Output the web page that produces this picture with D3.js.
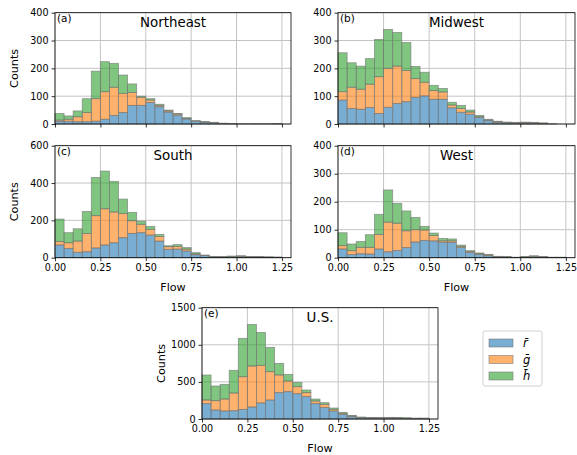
<!DOCTYPE html>
<html>
<head>
<meta charset="utf-8">
<script src="https://cdn.jsdelivr.net/npm/d3@7"></script>
<style>
  body { margin: 0; background: #fff; }
  svg { font-family: "DejaVu Sans", sans-serif; }
</style>
</head>
<body>
<div id="wrapper"></div>
<script>
// bin left edges, bin width 0.05
const binEdges = [0, 0.05, 0.10, 0.15, 0.20, 0.25, 0.30, 0.35, 0.40, 0.45, 0.50, 0.55, 0.60,
  0.65, 0.70, 0.75, 0.80, 0.85, 0.90, 0.95, 1.00, 1.05, 1.10, 1.15, 1.20];
const binWidth = 0.05;
const xTicks = [0, 0.25, 0.5, 0.75, 1.0, 1.25];

// counts per bin: r (blue, bottom), g (orange), h (green, top)
const northeastR = [10,10,8,8,10,17,31,41,67,67,77,62,43,32,18,10,6,4,2,1,1,1,1,1,1];
const northeastG = [4,7,18,33,81,99,101,69,46,29,9,5,4,4,2,1,1,1,0,0,0,0,0,0,0];
const northeastH = [24,12,21,50,99,108,86,66,31,4,5,4,3,2,3,1,2,1,1,1,0,0,0,0,1];

const midwestR = [86,56,53,59,38,60,74,80,96,101,89,89,58,42,35,23,12,6,4,3,3,3,2,0,0];
const midwestG = [30,76,72,84,132,140,134,112,67,49,31,26,10,14,8,3,2,2,1,1,2,1,1,0,0];
const midwestH = [140,88,83,92,134,140,121,101,44,36,19,13,10,11,7,5,3,2,2,2,2,2,1,1,0];

const southR = [68,50,29,32,52,68,80,107,130,134,121,89,45,46,36,16,11,4,3,4,5,3,3,2,2];
const southG = [18,30,60,98,173,194,165,129,68,45,31,25,14,15,10,5,2,1,1,2,2,2,1,1,0];
const southH = [121,54,66,118,205,202,164,78,45,17,16,11,5,9,8,6,1,2,3,3,4,2,3,2,2];

const westR = [31,11,14,13,31,21,26,36,56,62,60,55,55,36,19,12,7,3,2,1,2,4,2,1,1];
const westG = [12,14,23,24,52,106,97,60,44,37,19,5,5,4,4,2,3,1,1,0,1,1,1,0,0];
const westH = [46,24,21,45,72,115,71,71,44,13,9,9,7,5,2,3,2,1,1,1,1,2,1,1,1];

const usR = [207,121,108,112,130,162,216,256,355,368,341,301,207,157,108,63,31,15,12,10,12,11,8,5,4];
const usG = [49,126,161,238,440,552,507,382,238,144,95,54,35,41,22,13,9,5,3,3,4,3,2,1,1];
const usH = [337,198,198,306,517,561,444,327,157,90,58,36,27,22,18,14,9,7,7,9,6,8,8,7,8];

const yTicksA = [0, 100, 200, 300, 400];
const yTicksC = [0, 200, 400, 600];
const yTicksE = [0, 500, 1000, 1500];

const seriesKeys = ["r", "g", "h"];
const seriesColors = { r: "#1f77b4", g: "#ff7f0e", h: "#2ca02c" };
const legendLabels = { r: "r\u0304", g: "g\u0304", h: "h\u0304" };

const panels = [
  { tag: "(a)", title: "Northeast", r: northeastR, g: northeastG, h: northeastH, yTicks: yTicksA,
    left: 55, top: 12.7, width: 236, height: 111.3, xLabels: false, yLabel: true },
  { tag: "(b)", title: "Midwest", r: midwestR, g: midwestG, h: midwestH, yTicks: yTicksA,
    left: 338, top: 12.7, width: 237, height: 111.3, xLabels: false, yLabel: false },
  { tag: "(c)", title: "South", r: southR, g: southG, h: southH, yTicks: yTicksC,
    left: 55, top: 145.7, width: 236, height: 112, xLabels: true, yLabel: true },
  { tag: "(d)", title: "West", r: westR, g: westG, h: westH, yTicks: yTicksA,
    left: 338, top: 145.7, width: 237, height: 112, xLabels: true, yLabel: false },
  { tag: "(e)", title: "U.S.", r: usR, g: usG, h: usH, yTicks: yTicksE,
    left: 202, top: 307.7, width: 236, height: 111.3, xLabels: true, yLabel: true },
];

const svg = d3.select("#wrapper")
  .append("svg")
    .attr("width", 577)
    .attr("height", 455);

function drawPanel(p) {
  const xScale = d3.scaleLinear()
    .domain([0, 1.3])
    .range([p.left, p.left + p.width]);
  const yScale = d3.scaleLinear()
    .domain([0, d3.max(p.yTicks)])
    .range([p.top + p.height, p.top]);

  const g = svg.append("g");

  // grid
  g.append("g").selectAll("line.vx")
    .data(xTicks)
    .join("line")
      .attr("x1", d => xScale(d)).attr("x2", d => xScale(d))
      .attr("y1", p.top).attr("y2", p.top + p.height)
      .attr("stroke", "#c4c4c4").attr("stroke-width", 1);
  g.append("g").selectAll("line.hy")
    .data(p.yTicks)
    .join("line")
      .attr("x1", p.left).attr("x2", p.left + p.width)
      .attr("y1", d => yScale(d)).attr("y2", d => yScale(d))
      .attr("stroke", "#c4c4c4").attr("stroke-width", 1);

  const table = binEdges.map((x0, i) => ({ x0: x0, r: p.r[i], g: p.g[i], h: p.h[i] }));
  const stacked = d3.stack().keys(seriesKeys)(table);

  g.append("g").selectAll("g")
    .data(stacked)
    .join("g")
      .attr("fill", s => seriesColors[s.key])
      .attr("fill-opacity", 0.6)
    .selectAll("rect")
    .data(s => s)
    .join("rect")
      .attr("x", d => xScale(d.data.x0))
      .attr("width", d => xScale(d.data.x0 + binWidth) - xScale(d.data.x0))
      .attr("y", d => yScale(d[1]))
      .attr("height", d => yScale(d[0]) - yScale(d[1]))
      .attr("stroke", "#7a7a7a")
      .attr("stroke-opacity", 0.75)
      .attr("stroke-width", 0.8);

  const xAxisGenerator = d3.axisBottom(xScale)
    .tickValues(xTicks)
    .tickSize(3.5)
    .tickPadding(3)
    .tickFormat(p.xLabels ? d3.format(".2f") : "");
  const xAxis = g.append("g")
    .attr("transform", `translate(0, ${p.top + p.height})`)
    .call(xAxisGenerator);

  const yAxisGenerator = d3.axisLeft(yScale)
    .tickValues(p.yTicks)
    .tickSize(3.5)
    .tickPadding(3)
    .tickFormat(d3.format("d"));
  const yAxis = g.append("g")
    .attr("transform", `translate(${p.left}, 0)`)
    .call(yAxisGenerator);

  [xAxis, yAxis].forEach(a => {
    a.select(".domain").remove();
    a.selectAll(".tick line").attr("stroke", "#000").attr("stroke-width", 0.8);
    a.selectAll(".tick text")
      .attr("fill", "#000")
      .style("font-size", "9.6px")
      .style("font-family", "DejaVu Sans");
  });

  g.append("rect")
    .attr("x", p.left).attr("y", p.top)
    .attr("width", p.width).attr("height", p.height)
    .attr("fill", "none")
    .attr("stroke", "#000")
    .attr("stroke-width", 0.8);

  g.append("text")
    .attr("x", p.left + 2)
    .attr("y", p.top + 9)
    .style("font-size", "10.5px")
    .text(p.tag);

  g.append("text")
    .attr("x", p.left + p.width / 2)
    .attr("y", p.top + 14.5)
    .attr("text-anchor", "middle")
    .style("font-size", "13.4px")
    .text(p.title);

  if (p.yLabel) {
    g.append("text")
      .attr("transform", `translate(${p.left - 37}, ${p.top + p.height / 2}) rotate(-90)`)
      .attr("text-anchor", "middle")
      .style("font-size", "11.2px")
      .text("Counts");
  }
  if (p.xLabels) {
    g.append("text")
      .attr("x", p.left + p.width / 2)
      .attr("y", p.top + p.height + 33)
      .attr("text-anchor", "middle")
      .style("font-size", "11.2px")
      .text("Flow");
  }
}

panels.forEach(drawPanel);

// legend
const legend = svg.append("g").attr("transform", "translate(483, 331)");
legend.append("rect")
  .attr("width", 59).attr("height", 55)
  .attr("rx", 2)
  .attr("fill", "#fff")
  .attr("stroke", "#d0d0d0");
legend.selectAll("g.item")
  .data(seriesKeys)
  .join("g")
    .attr("class", "item")
    .attr("transform", (d, i) => `translate(6, ${8 + i * 16.5})`)
    .call(item => {
      item.append("rect")
        .attr("width", 24).attr("height", 8)
        .attr("fill", d => seriesColors[d])
        .attr("fill-opacity", 0.6)
        .attr("stroke", "#7a7a7a")
        .attr("stroke-opacity", 0.75)
        .attr("stroke-width", 0.8);
      item.append("text")
        .attr("x", 34).attr("y", 8)
        .style("font-size", "11.5px")
        .style("font-style", "italic")
        .text(d => legendLabels[d]);
    });
</script>
</body>
</html>
